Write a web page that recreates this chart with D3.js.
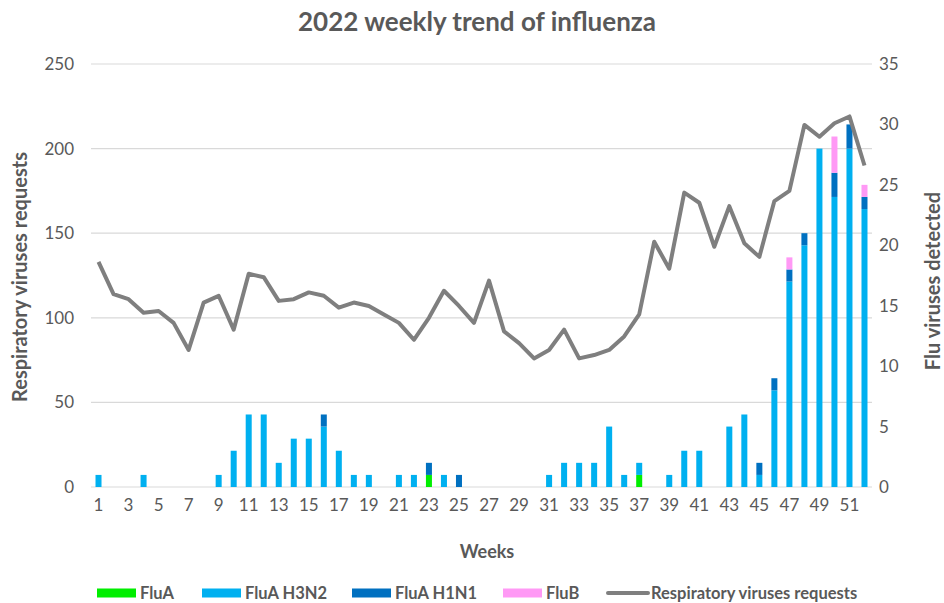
<!DOCTYPE html>
<html>
<head>
<meta charset="utf-8">
<script src="https://cdn.jsdelivr.net/npm/d3@7"></script>
<style>
  body { margin: 0; background: #fff; }
  text { font-family: Lato, "Open Sans", sans-serif; fill: #595959; }
</style>
</head>
<body>
<svg id="chart" width="944" height="603"></svg>
<script>
// weeks 1..52
const weeks = d3.range(1, 53)

// flu viruses detected per week (right axis)
const fluA = [0,0,0,0,0,0,0,0,0,0, 0,0,0,0,0,0,0,0,0,0, 0,0,1,0,0,0,0,0,0,0, 0,0,0,0,0,0,1,0,0,0, 0,0,0,0,0,0,0,0,0,0, 0,0]
const fluH3N2 = [1,0,0,1,0,0,0,0,1,3, 6,6,2,4,4,5,3,1,1,0, 1,1,0,1,0,0,0,0,0,0, 1,2,2,2,5,1,1,0,1,3, 3,0,5,6,1,8,17,20,28,24, 28,23]
const fluH1N1 = [0,0,0,0,0,0,0,0,0,0, 0,0,0,0,0,1,0,0,0,0, 0,0,1,0,1,0,0,0,0,0, 0,0,0,0,0,0,0,0,0,0, 0,0,0,0,1,1,1,1,0,2, 2,1]
const fluB = [0,0,0,0,0,0,0,0,0,0, 0,0,0,0,0,0,0,0,0,0, 0,0,0,0,0,0,0,0,0,0, 0,0,0,0,0,0,0,0,0,0, 0,0,0,0,0,0,1,0,0,3, 0,1]

// respiratory viruses requests (left axis)
const requests = [133,114,111,103,104,97,81,109,113,93, 126,124,110,111,115,113,106,109,107,102,
  97,87,100,116,107,97,122,92,85,76, 81,93,76,78,81,89,102,145,129,174,
  168,142,166,144,136,169,175,214,207,215, 219,190]

const leftTicks = [0, 50, 100, 150, 200, 250]
const rightTicks = [0, 5, 10, 15, 20, 25, 30, 35]
const weekLabels = weeks.filter(w => w % 2 === 1)

const seriesKeys = ["FluA", "FluA H3N2", "FluA H1N1", "FluB"]
const seriesColors = ["#00ee00", "#00b0f0", "#0070c0", "#ff99f5"]
const lineColor = "#7f7f7f"

const table = weeks.map((w, i) => ({
  week: w,
  "FluA": fluA[i],
  "FluA H3N2": fluH3N2[i],
  "FluA H1N1": fluH1N1[i],
  "FluB": fluB[i]
}))

const svg = d3.select("#chart")
const plotLeft = 91, plotRight = 872, plotTop = 64, plotBottom = 487

const x = d3.scaleBand().domain(weeks).range([plotLeft, plotRight]).paddingInner(0.6).paddingOuter(0.3)
const yL = d3.scaleLinear().domain([0, 250]).range([plotBottom, plotTop])
const yR = d3.scaleLinear().domain([0, 35]).range([plotBottom, plotTop])

// gridlines
svg.append("g")
  .selectAll("line")
  .data(leftTicks)
  .join("line")
  .attr("x1", plotLeft).attr("x2", plotRight)
  .attr("y1", d => yL(d)).attr("y2", d => yL(d))
  .attr("stroke", "#d9d9d9")
  .attr("stroke-width", 1.2)

// left axis
svg.append("g")
  .attr("transform", `translate(${plotLeft - 17},0)`)
  .call(d3.axisLeft(yL).tickValues(leftTicks).tickSize(0).tickPadding(0))
  .call(g => g.select(".domain").remove())
  .selectAll("text")
  .style("font-size", "17px")
  .attr("fill", "#595959")

// right axis
svg.append("g")
  .attr("transform", `translate(${plotRight + 7},0)`)
  .call(d3.axisRight(yR).tickValues(rightTicks).tickSize(0).tickPadding(0))
  .call(g => g.select(".domain").remove())
  .selectAll("text")
  .style("font-size", "17px")
  .attr("fill", "#595959")

// bottom axis
svg.append("g")
  .attr("transform", `translate(0,${plotBottom + 12})`)
  .call(d3.axisBottom(x).tickValues(weekLabels).tickSize(0).tickPadding(0))
  .call(g => g.select(".domain").remove())
  .selectAll("text")
  .style("font-size", "17px")
  .attr("fill", "#595959")

// stacked bars
const stacked = d3.stack().keys(seriesKeys)(table)
svg.append("g")
  .selectAll("g")
  .data(stacked)
  .join("g")
  .attr("fill", (d, i) => seriesColors[i])
  .selectAll("rect")
  .data(d => d.filter(s => s[1] > s[0]))
  .join("rect")
  .attr("x", d => x(d.data.week))
  .attr("y", d => yR(d[1]))
  .attr("width", x.bandwidth())
  .attr("height", d => yR(d[0]) - yR(d[1]))

// requests line
const line = d3.line()
  .x((d, i) => x(weeks[i]) + x.bandwidth() / 2)
  .y(d => yL(d))
svg.append("path")
  .datum(requests)
  .attr("d", line)
  .attr("fill", "none")
  .attr("stroke", lineColor)
  .attr("stroke-width", 4)
  .attr("stroke-linejoin", "round")

// title
svg.append("text")
  .attr("x", 477).attr("y", 31)
  .attr("text-anchor", "middle")
  .style("font-size", "26px")
  .style("font-weight", "bold")
  .text("2022 weekly trend of influenza")

// axis titles
svg.append("text")
  .attr("transform", "translate(27,277) rotate(-90)")
  .attr("text-anchor", "middle")
  .style("font-size", "20px")
  .style("font-weight", "bold")
  .text("Respiratory viruses requests")

svg.append("text")
  .attr("transform", "translate(940,281) rotate(-90)")
  .attr("text-anchor", "middle")
  .style("font-size", "20px")
  .style("font-weight", "bold")
  .text("Flu viruses detected")

svg.append("text")
  .attr("x", 487).attr("y", 558)
  .attr("text-anchor", "middle")
  .style("font-size", "18px")
  .style("font-weight", "bold")
  .text("Weeks")

// legend
const legendItems = [
  { label: "FluA", color: seriesColors[0], x: 97, type: "rect" },
  { label: "FluA H3N2", color: seriesColors[1], x: 202, type: "rect" },
  { label: "FluA H1N1", color: seriesColors[2], x: 352, type: "rect" },
  { label: "FluB", color: seriesColors[3], x: 503, type: "rect" },
  { label: "Respiratory viruses requests", color: lineColor, x: 607, type: "line" }
]
const legend = svg.append("g")
legendItems.forEach(item => {
  const g = legend.append("g").attr("transform", `translate(${item.x},593)`)
  if (item.type === "rect") {
    g.append("rect").attr("x", 0).attr("y", -4.5).attr("width", 39).attr("height", 9).attr("fill", item.color)
    g.append("text").attr("x", 43).attr("y", 6).style("font-size", "16.5px").style("font-weight", "bold").text(item.label)
  } else {
    g.append("line").attr("x1", 1).attr("x2", 41).attr("y1", 0).attr("y2", 0)
      .attr("stroke", item.color).attr("stroke-width", 4).attr("stroke-linecap", "round")
    g.append("text").attr("x", 44).attr("y", 6).style("font-size", "16.5px").style("font-weight", "bold").text(item.label)
  }
})
</script>
</body>
</html>
